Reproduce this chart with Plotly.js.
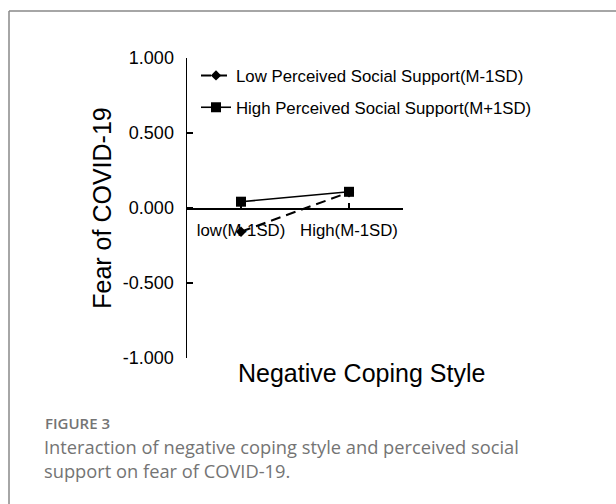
<!DOCTYPE html>
<html>
<head>
<meta charset="utf-8">
<script src="https://cdn.plot.ly/plotly-3.0.1.min.js"></script>
<style>
html,body{margin:0;padding:0;background:#fff;}
#chart{width:616px;height:504px;}
</style>
</head>
<body>
<div id="chart"></div>
<script>
// ---- data ----
const categories = ["low(M-1SD)", "High(M-1SD)"];
const lowSupport = [-0.158, 0.105];
const highSupport = [0.042, 0.108];
const seriesNames = ["Low Perceived Social Support(M-1SD)", "High Perceived Social Support(M+1SD)"];
const yTicks = [-1, -0.5, 0, 0.5, 1];
const yTickLabels = ["-1.000", "-0.500", "0.000", "0.500", "1.000"];
const xTitle = "Negative Coping Style";
const yTitle = "Fear of COVID-19";
const captionHead = "FIGURE 3";
const captionText = "Interaction of negative coping style and perceived social<br>support on fear of COVID-19.";

// ---- layout geometry ----
const W = 616, H = 504;
const ml = 187, mr = 213, mt = 58, mb = 146;
const pw = W - ml - mr, ph = H - mt - mb;
const px2x = p => (p - ml) / pw;
const py2y = p => 1 - (p - mt) / ph;

const axisFont = {family: "Liberation Sans, Arial, sans-serif", color: "#000"};

const traces = [
  {
    x: categories, y: lowSupport, name: seriesNames[0], type: "scatter", mode: "lines+markers",
    legendgroup: "a",
    line: {color: "#000", width: 2, dash: "10px,6px"},
    marker: {symbol: "diamond", size: 8, color: "#000"}
  },
  {
    x: categories, y: highSupport, name: seriesNames[1], type: "scatter", mode: "lines+markers",
    legendgroup: "b",
    line: {color: "#000", width: 1.6},
    marker: {symbol: "square", size: 10, color: "#000"}
  }
];

const layout = {
  width: W, height: H,
  margin: {l: ml, r: mr, t: mt, b: mb, pad: 0},
  paper_bgcolor: "#fff", plot_bgcolor: "rgba(0,0,0,0)",
  showlegend: true,
  legend: {
    x: px2x(196), y: py2y(58), xanchor: "left", yanchor: "top",
    bgcolor: "rgba(0,0,0,0)", tracegroupgap: 7,
    font: Object.assign({size: 16.8}, axisFont)
  },
  xaxis: {
    type: "category", range: [-0.5, 1.5], anchor: "free", position: 0.5,
    showline: true, linecolor: "#000", linewidth: 1.5,
    ticks: "inside", ticklen: 5, tickcolor: "#000", tickwidth: 1.5,
    ticklabelstandoff: 6,
    showgrid: false, zeroline: false, fixedrange: true,
    tickfont: Object.assign({size: 16.8}, axisFont)
  },
  yaxis: {
    range: [-1, 1], tickvals: yTicks, ticktext: yTickLabels,
    showline: true, linecolor: "#000", linewidth: 1.5,
    ticks: "inside", ticklen: 6, tickcolor: "#000", tickwidth: 1.5,
    ticklabelstandoff: 8,
    showgrid: false, zeroline: false, fixedrange: true,
    tickfont: Object.assign({size: 18}, axisFont),
    title: {text: yTitle, font: Object.assign({size: 25}, axisFont), standoff: 4}
  },
  annotations: [
    {xref: "paper", yref: "paper", x: px2x(236), y: py2y(373), xanchor: "left", yanchor: "middle",
     text: xTitle, showarrow: false, font: Object.assign({size: 25}, axisFont)},
    {xref: "paper", yref: "paper", x: px2x(43), y: py2y(423), xanchor: "left", yanchor: "middle",
     text: captionHead, showarrow: false,
     font: {family: "Open Sans, sans-serif", size: 15, color: "#747474", weight: 600}},
    {xref: "paper", yref: "paper", x: px2x(42), y: py2y(432), xanchor: "left", yanchor: "top", align: "left",
     text: captionText, showarrow: false,
     font: {family: "Open Sans, sans-serif", size: 18.3, color: "#747474"}}
  ],
  shapes: [
    {type: "line", xref: "paper", yref: "paper", x0: px2x(9), x1: px2x(616), y0: py2y(11), y1: py2y(11),
     line: {color: "#888", width: 1.5}},
    {type: "line", xref: "paper", yref: "paper", x0: px2x(9), x1: px2x(9), y0: py2y(11), y1: py2y(504),
     line: {color: "#888", width: 1.5}}
  ]
};

Plotly.newPlot("chart", traces, layout, {displayModeBar: false, staticPlot: true});
</script>
</body>
</html>
